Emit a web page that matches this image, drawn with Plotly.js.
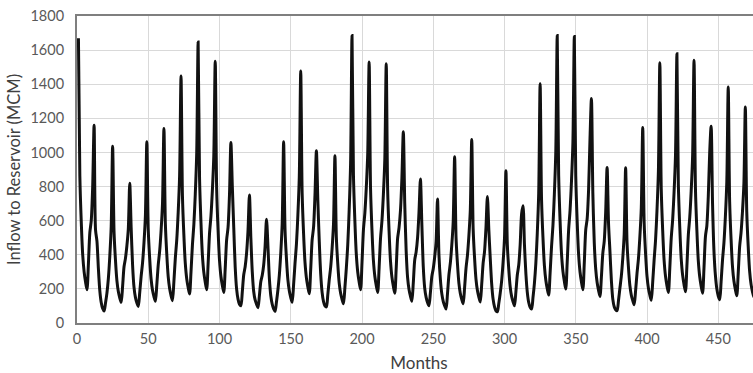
<!DOCTYPE html>
<html>
<head>
<meta charset="utf-8">
<script src="https://cdn.plot.ly/plotly-3.0.1.min.js"></script>
<style>
  html, body { margin: 0; padding: 0; background: #fff; overflow: hidden; }
  #wrap { width: 753px; height: 373px; overflow: hidden; position: relative; }
  #chart { width: 762px; height: 373px; }
</style>
</head>
<body>
<div id="wrap"><div id="chart"></div></div>
<script>
// Monthly inflow to reservoir (MCM), one row per 12-month block (months 1..480)
const inflowByYear = [
  [1670, 860, 590, 400, 300, 240, 195, 345, 530, 600, 800, 1160],
  [546, 480, 320, 190, 120, 85, 70, 117, 175, 260, 390, 565],
  [1037, 533, 368, 249, 185, 148, 121, 215, 330, 379, 452, 550],
  [819, 560, 340, 210, 150, 118, 97, 176, 273, 352, 470, 628],
  [1062, 548, 379, 258, 192, 155, 127, 223, 341, 421, 541, 701],
  [1140, 585, 403, 272, 202, 161, 131, 243, 380, 487, 647, 861],
  [1448, 745, 515, 349, 259, 208, 170, 300, 458, 577, 755, 993],
  [1647, 848, 587, 398, 297, 239, 195, 344, 526, 627, 778, 980],
  [1534, 789, 545, 369, 274, 220, 179, 318, 487, 560, 750, 1058],
  [800, 560, 330, 200, 140, 110, 101, 183, 283, 330, 410, 540],
  [750, 500, 300, 185, 135, 110, 90, 160, 244, 280, 340, 450],
  [608, 450, 260, 160, 110, 82, 68, 125, 195, 282, 412, 585],
  [1062, 544, 375, 253, 187, 149, 121, 225, 351, 464, 633, 858],
  [1478, 760, 525, 355, 263, 211, 172, 314, 487, 560, 750, 1010],
  [721, 480, 290, 180, 125, 100, 94, 166, 253, 326, 435, 580],
  [980, 503, 347, 234, 174, 139, 113, 207, 322, 458, 663, 936],
  [1686, 866, 598, 404, 299, 240, 195, 353, 546, 644, 792, 989],
  [1530, 787, 544, 368, 274, 220, 179, 322, 497, 599, 753, 957],
  [1520, 780, 538, 363, 269, 215, 175, 320, 497, 559, 660, 850],
  [1121, 700, 420, 266, 197, 157, 127, 236, 370, 417, 500, 650],
  [844, 580, 330, 205, 150, 120, 101, 178, 273, 318, 387, 477],
  [727, 400, 256, 172, 127, 101, 82, 172, 283, 352, 456, 594],
  [975, 501, 346, 234, 173, 139, 113, 207, 322, 397, 511, 661],
  [1076, 552, 380, 256, 190, 152, 123, 226, 351, 420, 560, 741],
  [546, 380, 230, 140, 95, 72, 66, 115, 175, 247, 355, 498],
  [893, 457, 315, 212, 156, 125, 101, 183, 283, 340, 460, 640],
  [688, 460, 290, 180, 120, 92, 82, 150, 234, 351, 526, 760],
  [1403, 722, 499, 337, 251, 201, 164, 292, 448, 572, 758, 1005],
  [1686, 868, 600, 407, 303, 244, 199, 355, 546, 659, 830, 1056],
  [1680, 863, 596, 403, 299, 240, 195, 353, 546, 610, 780, 1080],
  [1316, 760, 469, 318, 237, 191, 156, 270, 409, 480, 650, 912],
  [585, 420, 250, 140, 95, 78, 72, 132, 205, 276, 381, 522],
  [910, 468, 324, 219, 163, 131, 107, 190, 292, 377, 506, 676],
  [1146, 589, 407, 275, 204, 163, 133, 240, 370, 486, 659, 890],
  [1526, 785, 543, 368, 273, 219, 179, 322, 497, 605, 768, 984],
  [1579, 811, 560, 378, 281, 225, 183, 333, 517, 619, 773, 977],
  [1540, 789, 544, 366, 271, 216, 175, 324, 507, 570, 740, 1000],
  [1154, 700, 420, 280, 200, 158, 136, 241, 370, 471, 624, 826],
  [1384, 711, 490, 331, 246, 197, 160, 290, 448, 530, 653, 817],
  [1267, 653, 452, 306, 228, 184, 150, 260, 400, 480, 600, 800]
];
const inflow = inflowByYear.flat();
const months = inflow.map((_, i) => i + 1);

const xTickVals = [0, 50, 100, 150, 200, 250, 300, 350, 400, 450];
const yTickVals = [0, 200, 400, 600, 800, 1000, 1200, 1400, 1600, 1800];

const xTitle = 'Months';
const yTitle = 'Inflow to Reservoir (MCM)';

const trace = {
  x: months,
  y: inflow,
  type: 'scatter',
  mode: 'lines',
  line: { color: '#111111', width: 3, shape: 'spline', smoothing: 0.8 },
  hoverinfo: 'skip'
};

const fontFam = 'Lato, "Open Sans", sans-serif';

const layout = {
  width: 762,
  height: 373,
  margin: { l: 77, r: 1, t: 16, b: 50 },
  paper_bgcolor: '#ffffff',
  plot_bgcolor: '#ffffff',
  showlegend: false,
  font: { family: fontFam, color: '#595959', size: 14 },
  xaxis: {
    range: [0, 480],
    tickvals: xTickVals,
    showgrid: true,
    gridcolor: '#d9d9d9',
    gridwidth: 1,
    zeroline: false,
    showline: true,
    linecolor: '#7f7f7f',
    linewidth: 2,
    mirror: true,
    ticks: 'outside',
    ticklen: 2,
    tickcolor: 'rgba(0,0,0,0)',
    tickfont: { family: fontFam, size: 14.5, color: '#595959' },
    title: { text: xTitle, font: { family: fontFam, size: 17, color: '#404040' }, standoff: 14 }
  },
  yaxis: {
    range: [0, 1800],
    tickvals: yTickVals,
    showgrid: true,
    gridcolor: '#d9d9d9',
    gridwidth: 1,
    zeroline: false,
    showline: true,
    linecolor: '#7f7f7f',
    linewidth: 2,
    mirror: true,
    ticks: 'outside',
    ticklen: 8,
    tickcolor: 'rgba(0,0,0,0)',
    tickfont: { family: fontFam, size: 14.5, color: '#595959' },
    title: { text: yTitle, font: { family: fontFam, size: 16.5, color: '#404040' }, standoff: 6 }
  }
};

Plotly.newPlot('chart', [trace], layout, { staticPlot: true, displayModeBar: false });
</script>
</body>
</html>
